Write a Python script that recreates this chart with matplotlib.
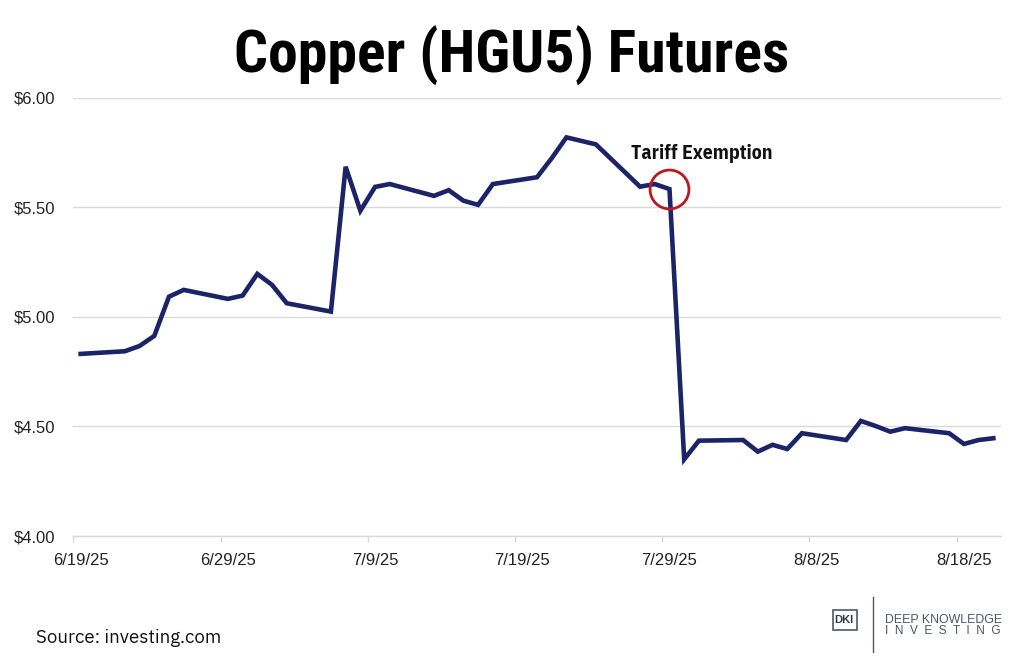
import matplotlib
matplotlib.use("Agg")
import matplotlib.pyplot as plt
import matplotlib.dates as mdates
from matplotlib.ticker import FuncFormatter, FixedLocator
from matplotlib.patches import Rectangle
from matplotlib.lines import Line2D
import datetime as dt

# ---- data ----
dates = ["2025-06-19", "2025-06-22", "2025-06-23", "2025-06-24", "2025-06-25", "2025-06-26",
         "2025-06-29", "2025-06-30", "2025-07-01", "2025-07-02", "2025-07-03", "2025-07-06",
         "2025-07-07", "2025-07-08", "2025-07-09", "2025-07-10", "2025-07-13", "2025-07-14",
         "2025-07-15", "2025-07-16", "2025-07-17", "2025-07-20", "2025-07-21", "2025-07-22",
         "2025-07-24", "2025-07-27", "2025-07-28", "2025-07-29", "2025-07-30", "2025-07-31",
         "2025-08-03", "2025-08-04", "2025-08-05", "2025-08-06", "2025-08-07", "2025-08-10",
         "2025-08-11", "2025-08-12", "2025-08-13", "2025-08-14", "2025-08-17", "2025-08-18",
         "2025-08-19", "2025-08-20"]
prices = [4.831, 4.843, 4.867, 4.913, 5.092, 5.123,
          5.082, 5.097, 5.196, 5.146, 5.062, 5.024,
          5.685, 5.484, 5.593, 5.606, 5.552, 5.578,
          5.530, 5.511, 5.606, 5.637, 5.724, 5.819,
          5.787, 5.594, 5.606, 5.583, 4.350, 4.435,
          4.438, 4.385, 4.416, 4.397, 4.469, 4.438,
          4.525, 4.502, 4.476, 4.492, 4.469, 4.420,
          4.438, 4.446]
tick_dates = ["2025-06-19", "2025-06-29", "2025-07-09", "2025-07-19",
              "2025-07-29", "2025-08-08", "2025-08-18"]
y_ticks = [4.00, 4.50, 5.00, 5.50, 6.00]
event_date = "2025-07-29"
event_label = "Tariff Exemption"
title = "Copper (HGU5) Futures"
source = "Source: investing.com"

# ---- styling ----
NAVY = "#1c2468"
GRID = "#d9d9d9"
RED = "#c0161d"
LOGO = "#4a5672"
COND = ["IBM Plex Sans Condensed", "Liberation Sans", "DejaVu Sans"]
PLEX = ["IBM Plex Sans", "Liberation Sans", "DejaVu Sans"]
TITLE_FONT = ["Roboto Condensed", "Barlow Condensed", "IBM Plex Sans Condensed",
              "Liberation Sans", "DejaVu Sans"]

x = [mdates.date2num(dt.date.fromisoformat(d)) for d in dates]
xt = [mdates.date2num(dt.date.fromisoformat(d)) for d in tick_dates]
xe = mdates.date2num(dt.date.fromisoformat(event_date))
ye = prices[dates.index(event_date)]

fig = plt.figure(figsize=(10.24, 6.62), dpi=100)
ax = fig.add_axes([73.3 / 1024, 1 - 536 / 662, 927.4 / 1024, (536 - 97.7) / 662])

ax.plot(x, prices, color=NAVY, lw=3.3, solid_joinstyle="miter", zorder=3)
ax.plot([xe], [ye], marker="o", markersize=28, markerfacecolor="none",
        markeredgecolor=RED, markeredgewidth=2.0, zorder=4)
ax.annotate(event_label, xy=(xe, ye), xytext=(23.5, 21.5), textcoords="offset points",
            ha="center", va="baseline", fontsize=14.2, fontweight="bold",
            family=COND, color="#111111")

ax.set_xlim(x[0] - 0.5, x[-1] + 0.5)
ax.set_ylim(y_ticks[0], y_ticks[-1])
ax.set_yticks(y_ticks)
ax.yaxis.set_major_formatter(FuncFormatter(lambda v, p: f"${v:.2f}"))
ax.xaxis.set_major_locator(FixedLocator(xt))
ax.xaxis.set_minor_locator(FixedLocator([v - 0.5 for v in xt]))


def fmt_date(v, p):
    d = mdates.num2date(v)
    return f"{d.month}/{d.day}/{d.year % 100}"


ax.xaxis.set_major_formatter(FuncFormatter(fmt_date))

ax.grid(axis="y", color=GRID, lw=1.0, zorder=0)
for s in ["left", "right", "top"]:
    ax.spines[s].set_visible(False)
ax.spines["bottom"].set_color(GRID)
ax.spines["bottom"].set_linewidth(1.0)

lab_font = ["Liberation Sans", "DejaVu Sans"]
ax.tick_params(axis="y", length=0, pad=13, labelsize=12, labelcolor="#222222")
ax.tick_params(axis="x", which="major", length=0, pad=12, labelsize=12, labelcolor="#222222")
ax.tick_params(axis="x", which="minor", length=4, width=1.0, color=GRID, direction="out")
for lab in ax.get_xticklabels() + ax.get_yticklabels():
    lab.set_family(lab_font)

# title
fig.text(0.5, 1 - 73 / 662, title, ha="center", va="baseline", fontsize=43,
         fontweight="bold", family=TITLE_FONT, color="#000000")

# source
fig.text(36 / 1024, 1 - 643 / 662, source, ha="left", va="baseline", fontsize=13.5,
         family=PLEX, color="#111111")

# logo
fig.add_artist(Rectangle((833 / 1024, 1 - 630 / 662), 24 / 1024, 20 / 662,
                         transform=fig.transFigure, fill=False, edgecolor=LOGO, lw=1.2))
fig.text(834 / 1024, 1 - 620 / 662, "DKI", ha="left", va="center", fontsize=8,
         fontweight="bold", family=["Liberation Sans", "DejaVu Sans"], color="#2d3a55")
fig.add_artist(Line2D([872.7 / 1024, 872.7 / 1024], [1 - 597 / 662, 1 - 652 / 662],
                      transform=fig.transFigure, color=LOGO, lw=1.0))
fig.text(885 / 1024, 1 - 623 / 662, "DEEP KNOWLEDGE", ha="left", va="baseline", fontsize=8.9,
         family=["Liberation Sans", "DejaVu Sans"], color=LOGO)
fig.text(885 / 1024, 1 - 634.5 / 662, "I  N  V  E  S  T  I  N  G", ha="left", va="baseline",
         fontsize=8.6, family=["Liberation Sans", "DejaVu Sans"], color=LOGO)

fig.savefig("out.png", dpi=100, facecolor="white")
